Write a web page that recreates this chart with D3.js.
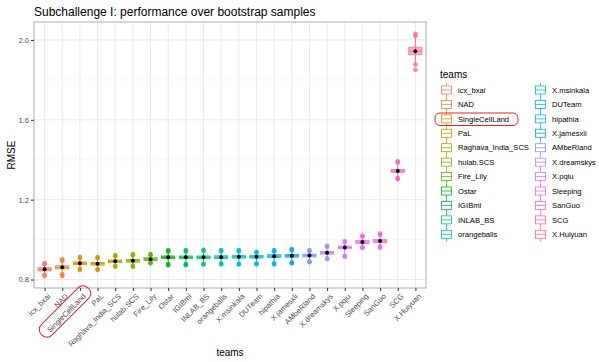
<!DOCTYPE html>
<html>
<head>
<meta charset="utf-8">
<script src="https://d3js.org/d3.v7.min.js"></script>
<style>
  body { margin: 0; background: #fff; }
  text { font-family: "Liberation Sans", Arial, sans-serif; }
</style>
</head>
<body>
<div id="chart"></div>
<script>
// ---- data ----
var teams = ["icx_bxai", "NAD", "SingleCellLand", "PaL", "Raghava_India_SCS", "hulab.SCS",
  "Fire_Lily", "Ostar", "IGIBml", "INLAB_BS", "orangeballs", "X.msinkala", "DUTeam",
  "hipathia", "X.jamesxli", "AMbeRland", "X.dreamskys", "X.pqiu", "Sleeping", "SanGuo",
  "SCG", "X.Huiyuan"];
var medians = [0.851, 0.861, 0.881, 0.879, 0.891, 0.894, 0.902, 0.911, 0.911, 0.911, 0.912,
  0.914, 0.914, 0.917, 0.919, 0.920, 0.934, 0.961, 0.988, 0.993, 1.344, 1.944];
var q1s = [0.843, 0.853, 0.874, 0.872, 0.884, 0.887, 0.895, 0.904, 0.904, 0.904, 0.905,
  0.907, 0.907, 0.910, 0.912, 0.913, 0.927, 0.954, 0.981, 0.986, 1.337, 1.926];
var q3s = [0.859, 0.869, 0.888, 0.886, 0.898, 0.901, 0.909, 0.918, 0.918, 0.918, 0.919,
  0.921, 0.921, 0.924, 0.926, 0.927, 0.941, 0.968, 0.995, 1.000, 1.351, 1.964];
var lows = [0.817, 0.818, 0.848, 0.848, 0.864, 0.864, 0.881, 0.872, 0.872, 0.875, 0.876,
  0.875, 0.876, 0.876, 0.881, 0.887, 0.902, 0.914, 0.958, 0.960, 1.303, 1.877];
var highs = [0.882, 0.901, 0.914, 0.913, 0.922, 0.927, 0.927, 0.947, 0.947, 0.949, 0.947,
  0.947, 0.939, 0.947, 0.952, 0.947, 0.969, 0.993, 1.020, 1.030, 1.392, 2.031];
var samples = [
  [0.817, 0.824, 0.876, 0.882], [0.818, 0.826, 0.893, 0.901], [0.848, 0.854, 0.908, 0.914],
  [0.848, 0.853, 0.907, 0.913], [0.864, 0.868, 0.916, 0.922], [0.864, 0.869, 0.921, 0.927],
  [0.881, 0.884, 0.922, 0.927], [0.872, 0.878, 0.940, 0.947], [0.872, 0.877, 0.941, 0.947],
  [0.875, 0.879, 0.943, 0.949], [0.876, 0.880, 0.942, 0.947], [0.875, 0.879, 0.941, 0.947],
  [0.876, 0.880, 0.934, 0.939], [0.876, 0.881, 0.941, 0.947], [0.881, 0.885, 0.946, 0.952],
  [0.887, 0.891, 0.941, 0.947], [0.902, 0.906, 0.963, 0.969], [0.914, 0.918, 0.987, 0.993],
  [0.958, 0.962, 1.014, 1.020], [0.960, 0.965, 1.024, 1.030], [1.303, 1.308, 1.386, 1.392],
  [1.851, 1.877, 2.020, 2.031]];
var means = medians.slice();
var yTicks = [0.8, 1.2, 1.6, 2.0];
var yMinor = [1.0, 1.4, 1.8];

// ggplot default hue palette (polar LUV, c=100, l=65)
function hueColor(h) {
  var L = 65, C = 100, rad = h * Math.PI / 180;
  var U = C * Math.cos(rad), V = C * Math.sin(rad);
  var Y = Math.pow((L + 16) / 116, 3);
  var un = 0.1978398, vn = 0.4683363;
  var up = U / (13 * L) + un, vp = V / (13 * L) + vn;
  var X = 9 * Y * up / (4 * vp);
  var Z = -X / 3 - 5 * Y + 3 * Y / vp;
  function gam(v) {
    v = v <= 0.0031308 ? 12.92 * v : 1.055 * Math.pow(v, 1 / 2.4) - 0.055;
    return Math.round(Math.max(0, Math.min(1, v)) * 255);
  }
  return d3.rgb(gam(3.240479 * X - 1.537150 * Y - 0.498535 * Z),
                gam(-0.969256 * X + 1.875992 * Y + 0.041556 * Z),
                gam(0.055648 * X - 0.204043 * Y + 1.057311 * Z)).formatHex();
}
var colors = teams.map(function(t, i) { return hueColor(15 + 360 * i / teams.length); });

var W = 599, H = 362;
var margin = {top: 22, left: 34, right: 173, bottom: 74};
var pw = W - margin.left - margin.right, ph = H - margin.top - margin.bottom;
var small = "7.6px";

var svg = d3.select("#chart").append("svg").attr("width", W).attr("height", H);

svg.append("text").attr("x", 34).attr("y", 16).style("font-size", "12px").attr("fill", "#000")
  .text("Subchallenge I: performance over bootstrap samples");

var g = svg.append("g").attr("transform", "translate(" + margin.left + "," + margin.top + ")");

var step = pw / (teams.length - 1 + 1.2);
var x = d3.scalePoint().domain(teams).range([0.6 * step, pw - 0.6 * step]);
var y = d3.scaleLinear().domain([0.7575, 2.09]).range([ph, 0]);

// grid
g.selectAll(".minor").data(yMinor).enter().append("line")
  .attr("x1", 0).attr("x2", pw).attr("y1", function(d) { return y(d); }).attr("y2", function(d) { return y(d); })
  .attr("stroke", "#F2F2F2").attr("stroke-width", 0.6);
g.selectAll(".major").data(yTicks).enter().append("line")
  .attr("x1", 0).attr("x2", pw).attr("y1", function(d) { return y(d); }).attr("y2", function(d) { return y(d); })
  .attr("stroke", "#EBEBEB").attr("stroke-width", 1);
g.selectAll(".vgrid").data(teams).enter().append("line")
  .attr("x1", function(d) { return x(d); }).attr("x2", function(d) { return x(d); })
  .attr("y1", 0).attr("y2", ph).attr("stroke", "#EBEBEB").attr("stroke-width", 1);

// boxes
var bw = step * 0.75;
var boxes = g.selectAll(".box").data(teams).enter().append("g");
boxes.append("line")
  .attr("x1", function(d) { return x(d); }).attr("x2", function(d) { return x(d); })
  .attr("y1", function(d, i) { return y(lows[i]); }).attr("y2", function(d, i) { return y(highs[i]); })
  .attr("stroke", function(d, i) { return colors[i]; }).attr("stroke-width", 1);
boxes.append("rect")
  .attr("x", function(d) { return x(d) - bw / 2; }).attr("width", bw)
  .attr("y", function(d, i) { return y(q3s[i]); })
  .attr("height", function(d, i) { return y(q1s[i]) - y(q3s[i]); })
  .attr("fill", function(d, i) { return colors[i]; }).attr("fill-opacity", 0.55)
  .attr("stroke", function(d, i) { return colors[i]; }).attr("stroke-width", 0.7);
boxes.append("line")
  .attr("x1", function(d) { return x(d) - bw / 2; }).attr("x2", function(d) { return x(d) + bw / 2; })
  .attr("y1", function(d, i) { return y(medians[i]); }).attr("y2", function(d, i) { return y(medians[i]); })
  .attr("stroke", function(d, i) { return colors[i]; }).attr("stroke-width", 1);
boxes.each(function(d, i) {
  d3.select(this).selectAll("circle.pt").data(samples[i]).enter().append("circle")
    .attr("cx", x(d)).attr("cy", function(v) { return y(v); }).attr("r", 2.3)
    .attr("fill", colors[i]).attr("fill-opacity", 0.85);
});
boxes.append("circle")
  .attr("cx", function(d) { return x(d); }).attr("cy", function(d, i) { return y(means[i]); })
  .attr("r", 2).attr("fill", "#000");

// border
g.append("rect").attr("width", pw).attr("height", ph).attr("fill", "none")
  .attr("stroke", "#999").attr("stroke-width", 0.8);

// axes
var yAxis = g.append("g").call(d3.axisLeft(y).tickValues(yTicks).tickFormat(d3.format(".1f")).tickSize(3).tickPadding(2));
yAxis.select(".domain").remove();
yAxis.selectAll("line").attr("stroke", "#333");
yAxis.selectAll("text").attr("fill", "#4D4D4D").style("font-size", small).style("font-family", "Liberation Sans, Arial");

var xAxis = g.append("g").attr("transform", "translate(0," + ph + ")")
  .call(d3.axisBottom(x).tickSize(3).tickPadding(2));
xAxis.select(".domain").remove();
xAxis.selectAll("line").attr("stroke", "#333");
xAxis.selectAll("text").attr("fill", "#4D4D4D").style("font-size", small).style("font-family", "Liberation Sans, Arial")
  .attr("text-anchor", "end").attr("dy", "0.72em")
  .attr("transform", "translate(2,5) rotate(-45)").attr("y", 0).attr("x", 0);

svg.append("text").attr("transform", "translate(15," + (margin.top + ph / 2) + ") rotate(-90)")
  .attr("text-anchor", "middle").style("font-size", "10px").text("RMSE");
svg.append("text").attr("x", margin.left + pw / 2).attr("y", 356)
  .attr("text-anchor", "middle").style("font-size", "10px").text("teams");

// legend
var leg = svg.append("g");
leg.append("text").attr("x", 440).attr("y", 78).style("font-size", "10px").text("teams");
var rows = 11, rowH = 14.43;
teams.forEach(function(t, i) {
  var col = Math.floor(i / rows), r = i % rows;
  var kx = col === 0 ? 441.5 : 535.5, ky = 90 + r * rowH;
  var k = leg.append("g").attr("transform", "translate(" + kx + "," + ky + ")");
  k.append("line").attr("x1", 5).attr("x2", 5).attr("y1", -7).attr("y2", 7).attr("stroke", colors[i]).attr("stroke-width", 0.8);
  k.append("rect").attr("x", 0).attr("y", -4).attr("width", 10).attr("height", 8)
    .attr("fill", "#fff").attr("stroke", colors[i]).attr("stroke-width", 0.8);
  k.append("line").attr("x1", 0).attr("x2", 10).attr("y1", 0).attr("y2", 0).attr("stroke", colors[i]).attr("stroke-width", 0.8);
  leg.append("text").attr("x", kx + 16.5).attr("y", ky).attr("dy", "0.35em")
    .style("font-size", small).attr("fill", "#000").text(t);
});

// red highlight marks
svg.append("rect").attr("x", 435).attr("y", 113).attr("width", 83).attr("height", 12.5)
  .attr("rx", 5).attr("fill", "none").attr("stroke", "#E8202A").attr("stroke-width", 1);
svg.append("rect").attr("x", -33).attr("y", -7.5).attr("width", 66).attr("height", 15)
  .attr("rx", 7).attr("fill", "none").attr("stroke", "#E8202A").attr("stroke-width", 1)
  .attr("transform", "translate(65,311.5) rotate(-45)");
</script>
</body>
</html>
